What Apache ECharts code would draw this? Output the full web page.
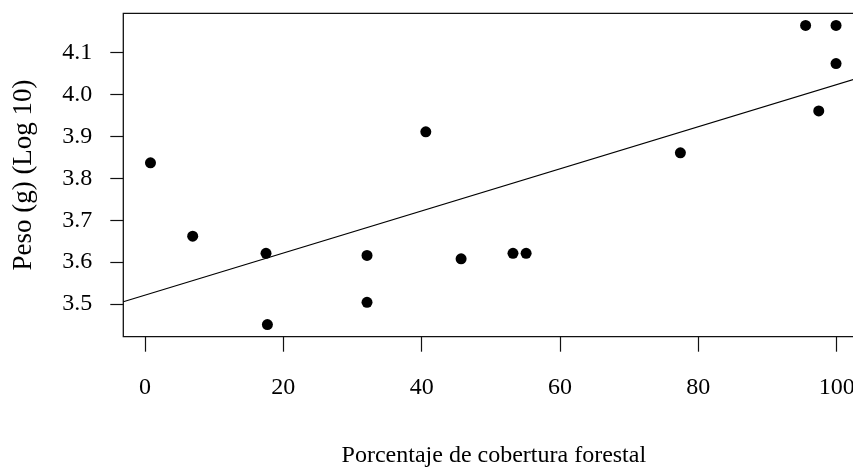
<!DOCTYPE html>
<html>
<head>
<meta charset="utf-8">
<script src="https://cdn.jsdelivr.net/npm/echarts@6/dist/echarts.min.js"></script>
<style>html,body{margin:0;padding:0;background:#fff}#c{width:853px;height:469px}</style>
</head>
<body>
<div id="c"></div>
<script>
// Observed points: forest cover (%) vs weight (log10 g)
const coverPct = [0.8, 6.9, 17.5, 17.7, 32.1, 32.1, 40.6, 45.7, 53.2, 55.1, 77.4, 95.5, 99.9, 99.9, 97.4];
const weightLog = [3.837, 3.662, 3.621, 3.451, 3.616, 3.504, 3.911, 3.608, 3.621, 3.621, 3.861, 4.165, 4.165, 4.074, 3.961];
// Fitted regression line endpoints
const fitX = [-3.13, 104];
const fitY = [3.5055, 4.044];
// Tick labels
const xTicks = [0, 20, 40, 60, 80, 100];
const yTicks = [3.5, 3.6, 3.7, 3.8, 3.9, 4.0, 4.1];

const font = 'Liberation Serif';
const chart = echarts.init(document.getElementById('c'));
chart.setOption({
  animation: false,
  backgroundColor: '#fff',
  grid: {left: 123.3, top: 13.3, bottom: 132.3, right: -11.4, containLabel: false, outerBoundsMode: 'none',
    show: true, borderColor: '#111', borderWidth: 1.3, backgroundColor: 'transparent'},
  xAxis: {
    type: 'value', min: -3.13, max: 104,
    name: 'Porcentaje de cobertura forestal', nameLocation: 'middle', nameGap: 107,
    nameTextStyle: {fontFamily: font, fontSize: 24, color: '#000'},
    axisLine: {show: false, onZero: false},
    axisTick: {show: true, inside: false, length: 15, lineStyle: {color: '#111', width: 1.2}, customValues: xTicks},
    axisLabel: {show: true, fontFamily: font, fontSize: 24, color: '#000', margin: 39, customValues: xTicks, formatter: v => String(v)},
    splitLine: {show: false}
  },
  yAxis: {
    type: 'value', min: 3.422, max: 4.194,
    name: 'Peso (g) (Log 10)', nameLocation: 'middle', nameGap: 86, nameRotate: 90,
    nameTextStyle: {fontFamily: font, fontSize: 27, color: '#000'},
    axisLine: {show: false, onZero: false},
    axisTick: {show: true, inside: false, length: 13, lineStyle: {color: '#111', width: 1.2}, customValues: yTicks},
    axisLabel: {show: true, fontFamily: font, fontSize: 24, color: '#000', margin: 31, customValues: yTicks, formatter: v => v.toFixed(1)},
    splitLine: {show: false}
  },
  series: [
    {
      type: 'line', data: fitX.map((x, i) => [x, fitY[i]]), symbol: 'none',
      lineStyle: {color: '#000', width: 1.2}, silent: true, clip: true
    },
    {
      type: 'scatter', data: coverPct.map((x, i) => [x, weightLog[i]]),
      symbol: 'circle', symbolSize: 11, itemStyle: {color: '#000', opacity: 1}
    }
  ]
});
</script>
</body>
</html>
